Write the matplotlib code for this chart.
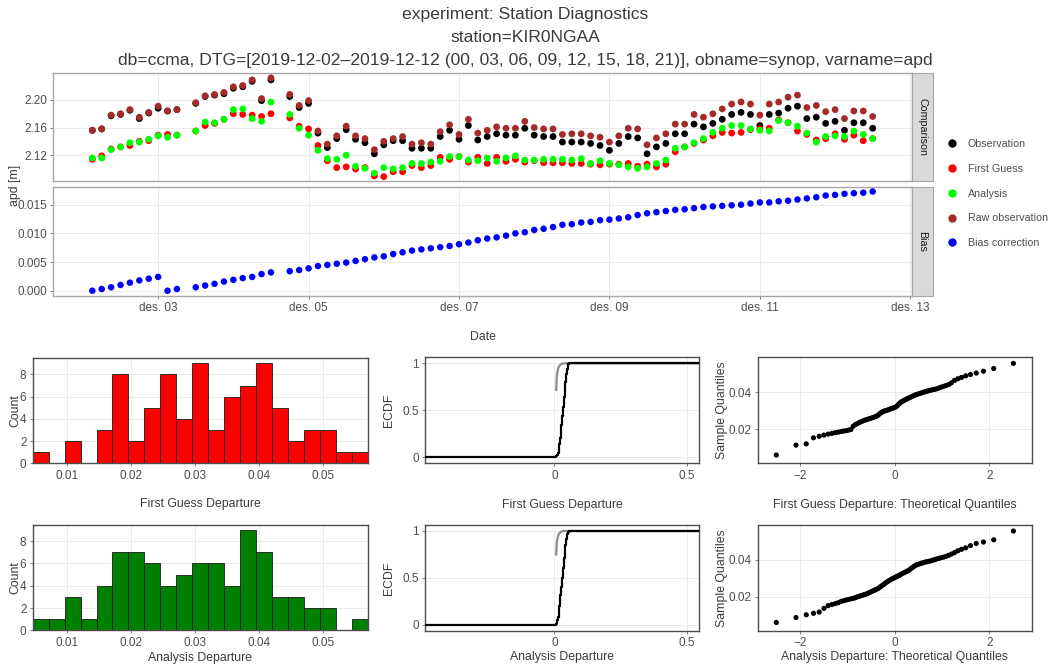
import numpy as np
import pandas as pd
import matplotlib
matplotlib.use("Agg")
import matplotlib.pyplot as plt
import matplotlib.dates as mdates
from matplotlib.lines import Line2D
from statistics import NormalDist

plt.rcParams['font.family'] = ['Liberation Sans', 'DejaVu Sans']

nan = np.nan
# ---------------- data ----------------
times = pd.date_range('2019-12-02 03:00', '2019-12-12 12:00', freq='3h')

raw_obs = [2.156, 2.158, 2.178, 2.180, 2.186, 2.175, 2.182, 2.191, 2.184, 2.186, nan,
           2.196, 2.206, 2.208, 2.211, 2.219, 2.221, 2.229, 2.202, 2.232, nan,
           2.208, 2.192, 2.199, 2.155, 2.136, 2.148, 2.162, 2.148, 2.144, 2.128,
           2.140, 2.144, 2.147, 2.136, 2.138, 2.136, 2.154, 2.164, 2.150, 2.172,
           2.152, 2.156, 2.161, 2.159, 2.159, 2.169, 2.160, 2.158, 2.158, 2.150,
           2.151, 2.151, 2.148, 2.146, 2.139, 2.148, 2.159, 2.158, 2.135, 2.145,
           2.151, 2.165, 2.165, 2.179, 2.175, 2.180, 2.187, 2.194, 2.197, 2.194,
           2.178, 2.194, 2.197, 2.204, 2.207, 2.189, 2.192, 2.183, 2.186, 2.173,
           2.184, 2.184, 2.176]

observation = [2.156, 2.158, 2.177, 2.179, 2.185, 2.173, 2.181, 2.188, 2.184, 2.186, nan,
               2.195, 2.205, 2.207, 2.209, 2.217, 2.219, 2.227, 2.199, 2.229, nan,
               2.205, 2.189, 2.195, 2.152, 2.131, 2.144, 2.157, 2.143, 2.138, 2.122,
               2.135, 2.141, 2.141, 2.130, 2.130, 2.130, 2.147, 2.156, 2.143, 2.163,
               2.142, 2.147, 2.151, 2.149, 2.149, 2.159, 2.149, 2.147, 2.147, 2.139,
               2.139, 2.139, 2.137, 2.134, 2.127, 2.137, 2.147, 2.145, 2.122, 2.132,
               2.137, 2.151, 2.151, 2.165, 2.161, 2.166, 2.172, 2.179, 2.182, 2.179,
               2.163, 2.179, 2.181, 2.188, 2.191, 2.173, 2.175, 2.166, 2.169, 2.156,
               2.167, 2.167, 2.159]

first_guess = [2.114, 2.119, 2.129, 2.132, 2.134, 2.140, 2.141, 2.149, 2.150, 2.149, nan,
               2.155, 2.163, 2.166, 2.172, 2.180, 2.179, 2.178, 2.176, 2.180, nan,
               2.174, 2.162, 2.158, 2.134, 2.112, 2.102, 2.103, 2.100, 2.102, 2.090,
               2.089, 2.096, 2.096, 2.105, 2.102, 2.105, 2.117, 2.114, 2.118, 2.110,
               2.117, 2.108, 2.117, 2.111, 2.114, 2.110, 2.112, 2.109, 2.109, 2.109,
               2.108, 2.108, 2.107, 2.106, 2.107, 2.107, 2.108, 2.104, 2.107, 2.103,
               2.107, 2.125, 2.132, 2.137, 2.142, 2.148, 2.153, 2.152, 2.153, 2.157,
               2.158, 2.159, 2.171, 2.167, 2.155, 2.150, 2.142, 2.144, 2.151, 2.143,
               2.149, 2.141, 2.144]

analysis = [2.116, 2.116, 2.128, 2.132, 2.138, 2.139, 2.143, 2.148, 2.146, 2.149, nan,
            2.155, 2.168, 2.167, 2.172, 2.186, 2.187, 2.173, 2.169, 2.197, nan,
            2.179, 2.159, 2.149, 2.127, 2.115, 2.114, 2.120, 2.104, 2.101, 2.094,
            2.102, 2.100, 2.102, 2.108, 2.108, 2.110, 2.111, 2.118, 2.118, 2.113,
            2.112, 2.116, 2.111, 2.116, 2.119, 2.113, 2.113, 2.114, 2.114, 2.114,
            2.113, 2.115, 2.108, 2.112, 2.108, 2.106, 2.103, 2.101, 2.103, 2.108,
            2.113, 2.130, 2.132, 2.138, 2.144, 2.153, 2.159, 2.163, 2.163, 2.158,
            2.156, 2.155, 2.170, 2.167, 2.162, 2.152, 2.139, 2.147, 2.148, 2.147,
            2.155, 2.150, 2.144]

bias_correction = [0.0000, 0.0003, 0.0006, 0.0010, 0.0014, 0.0018, 0.0021, 0.0024, 0.0000, 0.0003, nan,
                   0.0006, 0.0009, 0.0012, 0.0016, 0.0019, 0.0022, 0.0024, 0.0029, 0.0032, nan,
                   0.0034, 0.0036, 0.0039, 0.0043, 0.0045, 0.0047, 0.0049, 0.0052, 0.0055, 0.0058,
                   0.0060, 0.0064, 0.0067, 0.0070, 0.0072, 0.0074, 0.0076, 0.0078, 0.0081, 0.0084,
                   0.0088, 0.0091, 0.0093, 0.0096, 0.0100, 0.0102, 0.0106, 0.0108, 0.0111, 0.0115,
                   0.0116, 0.0119, 0.0120, 0.0123, 0.0124, 0.0126, 0.0128, 0.0132, 0.0135, 0.0137,
                   0.0139, 0.0141, 0.0142, 0.0144, 0.0146, 0.0147, 0.0148, 0.0149, 0.0150, 0.0152,
                   0.0154, 0.0154, 0.0156, 0.0157, 0.0159, 0.0161, 0.0163, 0.0166, 0.0167, 0.0169,
                   0.0170, 0.0171, 0.0173]

fg_departure = [0.0058, 0.0112, 0.0119, 0.0152, 0.0160, 0.0167, 0.0172, 0.0176, 0.0180, 0.0183,
                0.0186, 0.0189, 0.0191, 0.0194, 0.0198, 0.0215, 0.0224, 0.0229, 0.0235, 0.0240,
                0.0244, 0.0248, 0.0251, 0.0254, 0.0257, 0.0260, 0.0263, 0.0266, 0.0269, 0.0275,
                0.0282, 0.0288, 0.0293, 0.0297, 0.0300, 0.0302, 0.0305, 0.0308, 0.0311, 0.0314,
                0.0316, 0.0319, 0.0326, 0.0334, 0.0342, 0.0348, 0.0352, 0.0357, 0.0361, 0.0365,
                0.0369, 0.0373, 0.0377, 0.0381, 0.0385, 0.0388, 0.0391, 0.0394, 0.0397, 0.0400,
                0.0403, 0.0406, 0.0409, 0.0411, 0.0414, 0.0416, 0.0419, 0.0423, 0.0428, 0.0432,
                0.0437, 0.0442, 0.0452, 0.0465, 0.0474, 0.0481, 0.0490, 0.0497, 0.0505, 0.0515,
                0.0530, 0.0558]

an_departure = [0.0058, 0.0085, 0.0100, 0.0108, 0.0115, 0.0135, 0.0150, 0.0156, 0.0161, 0.0166,
                0.0173, 0.0177, 0.0181, 0.0184, 0.0187, 0.0190, 0.0193, 0.0198, 0.0201, 0.0205,
                0.0208, 0.0211, 0.0214, 0.0218, 0.0223, 0.0227, 0.0231, 0.0235, 0.0239, 0.0243,
                0.0249, 0.0255, 0.0261, 0.0267, 0.0274, 0.0279, 0.0284, 0.0289, 0.0294, 0.0298,
                0.0302, 0.0306, 0.0310, 0.0314, 0.0318, 0.0323, 0.0327, 0.0331, 0.0335, 0.0339,
                0.0343, 0.0350, 0.0356, 0.0362, 0.0368, 0.0373, 0.0376, 0.0379, 0.0382, 0.0385,
                0.0388, 0.0390, 0.0392, 0.0394, 0.0398, 0.0401, 0.0405, 0.0408, 0.0412, 0.0415,
                0.0419, 0.0425, 0.0432, 0.0440, 0.0450, 0.0458, 0.0466, 0.0478, 0.0490, 0.0498,
                0.0510, 0.0558]

# grey reference curves in the ECDF panels
ecdf_ref_fg_x = [0.0064, 0.0090, 0.014, 0.019, 0.026, 0.034, 0.55]
ecdf_ref_fg_y = [0.716, 0.876, 0.947, 0.975, 0.993, 1.0, 1.0]
ecdf_ref_an_x = [0.0064, 0.0090, 0.014, 0.019, 0.026, 0.034, 0.55]
ecdf_ref_an_y = [0.75, 0.890, 0.952, 0.978, 0.994, 1.0, 1.0]

series = [("Observation", observation, "#000000"),
          ("First Guess", first_guess, "#FF0000"),
          ("Analysis", analysis, "#00FF00"),
          ("Raw observation", raw_obs, "#A52A2A")]

# ---------------- style helpers ----------------
W, H = 1051, 668
TXT = '#4D4D4D'
TTL = '#3A3A3A'
GRID = '#EBEBEB'


def box(x0, y0, x1, y1):
    return [x0 / W, 1 - y1 / H, (x1 - x0) / W, (y1 - y0) / H]


def style(ax, spine='#A6A6A6', lw=1.0):
    for s in ax.spines.values():
        s.set_color(spine)
        s.set_linewidth(lw)
    ax.grid(True, color=GRID, lw=0.7)
    ax.set_axisbelow(True)
    ax.tick_params(colors='#7F7F7F', labelcolor=TXT, labelsize=8.5, length=2.5, width=0.7, pad=2)


def place_labels(ax, xlabel, xl_y, ylabel, yl_x):
    ax.set_xlabel(xlabel, fontsize=8.8, color=TTL)
    ax.xaxis.set_label_coords(0.5, xl_y)
    ax.xaxis.label.set_va('center')
    if ylabel:
        ax.set_ylabel(ylabel, fontsize=8.8, color=TTL)
        ax.yaxis.set_label_coords(yl_x, 0.5)
        ax.yaxis.label.set_va('center')
        ax.yaxis.label.set_ha('center')


fig = plt.figure(figsize=(W / 100, H / 100), dpi=100)

fig.text(0.5, 1 - 15 / H, 'experiment: Station Diagnostics', ha='center', va='center', fontsize=12.6, color=TTL)
fig.text(0.5, 1 - 37 / H, 'station=KIR0NGAA', ha='center', va='center', fontsize=12.6, color=TTL)
fig.text(0.5, 1 - 60 / H,
         'db=ccma, DTG=[2019-12-02\u20132019-12-12 (00, 03, 06, 09, 12, 15, 18, 21)], obname=synop, varname=apd',
         ha='center', va='center', fontsize=12.6, color=TTL)

# ---------------- top: time series ----------------
ax1 = fig.add_axes(box(53.3, 73.3, 911.7, 181))
ax2 = fig.add_axes(box(53.3, 186.7, 911.7, 295.7), sharex=ax1)
style(ax1)
style(ax2)

handles = []
for name, vals, col in series:
    ax1.scatter(times, vals, s=24, color=col, edgecolors='none', zorder=3)
    handles.append(Line2D([], [], ls='none', marker='o', markersize=5, color=col, label=name))
ax2.scatter(times, bias_correction, s=22, color='#0000FF', edgecolors='none', zorder=3)
handles.append(Line2D([], [], ls='none', marker='o', markersize=5, color='#0000FF', label='Bias correction'))

ax1.set_ylim(2.0826, 2.2386)
ax1.set_yticks([2.12, 2.16, 2.20])
ax1.set_yticklabels(['2.12', '2.16', '2.20'])
ax2.set_ylim(-0.00087, 0.01814)
ax2.set_yticks([0, 0.005, 0.010, 0.015])
ax2.set_yticklabels(['0.000', '0.005', '0.010', '0.015'])
ax1.margins(x=0.05)
ax2.xaxis.set_major_locator(mdates.DayLocator(bymonthday=[3, 5, 7, 9, 11, 13]))
ax2.xaxis.set_major_formatter(plt.FuncFormatter(lambda v, p: 'des. ' + mdates.num2date(v).strftime('%d')))
ax1.tick_params(axis='x', which='both', bottom=False, labelbottom=False)
place_labels(ax2, 'Date', -0.38, None, None)

for (y0, y1, lab) in [(73.3, 181, 'Comparison'), (186.7, 295.7, 'Bias')]:
    st = fig.add_axes(box(912.3, y0, 932.7, y1))
    st.set_facecolor('#D9D9D9')
    st.set_xticks([])
    st.set_yticks([])
    for s in st.spines.values():
        s.set_color('#A6A6A6')
    st.text(0.5, 0.5, lab, rotation=-90, ha='center', va='center', fontsize=7.7, color='#1A1A1A',
            transform=st.transAxes)

fig.text(15 / W, 1 - 185 / H, 'apd [m]', rotation=90, ha='center', va='center', fontsize=8.8, color=TTL)

fig.legend(handles=handles, loc='upper left', bbox_to_anchor=(938 / W, 1 - 130.5 / H), frameon=False,
           fontsize=7.7, labelspacing=1.38, handlelength=1.0, handletextpad=1.0, borderpad=0.3,
           labelcolor=TXT)


# ---------------- bottom: histograms ----------------
def hist_panel(rect, data, color, xlabel, label_y):
    ax = fig.add_axes(rect)
    style(ax, spine='#4D4D4D', lw=1.0)
    d = np.asarray(data)
    lo, hi = d.min(), d.max()
    w = (hi - lo) / 20
    edges = np.linspace(lo - w / 2, hi + w / 2, 22)
    ax.hist(d, bins=edges, color=color, edgecolor='#1A1A1A', linewidth=0.6, zorder=2)
    ax.set_xlim(edges[0], edges[-1])
    ax.set_ylim(0, 9.45)
    ax.set_xticks([0.01, 0.02, 0.03, 0.04, 0.05])
    ax.set_xticklabels(['0.01', '0.02', '0.03', '0.04', '0.05'])
    ax.set_yticks([0, 2, 4, 6, 8])
    place_labels(ax, xlabel, label_y, 'Count', -0.053)
    return ax


hist_panel(box(32.7, 358.3, 367.7, 463.3), fg_departure, '#FF0000', 'First Guess Departure', -0.39)
hist_panel(box(32.7, 525, 367.7, 630.3), an_departure, '#008000', 'Analysis Departure', -0.26)


# ---------------- bottom: ECDF ----------------
def ecdf_panel(rect, data, refx, refy, xlabel, label_y):
    ax = fig.add_axes(rect)
    style(ax, spine='#4D4D4D', lw=1.0)
    xlo, xhi = -0.49, 0.547
    xs = np.sort(np.asarray(data))
    ys = np.arange(1, len(xs) + 1) / len(xs)
    ax.plot(refx, refy, color='#8C8C8C', lw=1.6, zorder=2)
    ax.step(np.r_[xlo, xs, xhi], np.r_[0, ys, 1], where='post', color='black', lw=1.6, zorder=3)
    ax.set_xlim(xlo, xhi)
    ax.set_ylim(-0.064, 1.064)
    ax.set_xticks([0, 0.5])
    ax.set_xticklabels(['0', '0.5'])
    ax.set_yticks([0, 0.5, 1])
    ax.set_yticklabels(['0', '0.5', '1'])
    place_labels(ax, xlabel, label_y, 'ECDF', -0.131)
    return ax


ecdf_panel(box(425, 357.3, 699, 463.3), fg_departure, ecdf_ref_fg_x, ecdf_ref_fg_y, 'First Guess Departure', -0.39)
ecdf_panel(box(425, 525, 699, 630.7), an_departure, ecdf_ref_an_x, ecdf_ref_an_y, 'Analysis Departure', -0.25)


# ---------------- bottom: QQ ----------------
def qq_panel(rect, data, xlabel, label_y):
    ax = fig.add_axes(rect)
    style(ax, spine='#4D4D4D', lw=1.0)
    s = np.sort(np.asarray(data))
    n = len(s)
    nd = NormalDist()
    theo = [nd.inv_cdf((i - 0.5) / n) for i in range(1, n + 1)]
    ax.scatter(theo, s, s=14, color='black', edgecolors='none', zorder=3)
    ax.set_xlim(-2.9, 2.9)
    ax.set_ylim(0.0013, 0.0591)
    ax.set_xticks([-2, 0, 2])
    ax.set_yticks([0.02, 0.04])
    ax.set_yticklabels(['0.02', '0.04'])
    place_labels(ax, xlabel, label_y, 'Sample Quantiles', -0.131)
    return ax


qq_panel(box(757.7, 357.3, 1032, 463.3), fg_departure, 'First Guess Departure: Theoretical Quantiles', -0.39)
qq_panel(box(757.7, 525, 1032, 630.7), an_departure, 'Analysis Departure: Theoretical Quantiles', -0.25)

fig.savefig('out.png', dpi=100)
